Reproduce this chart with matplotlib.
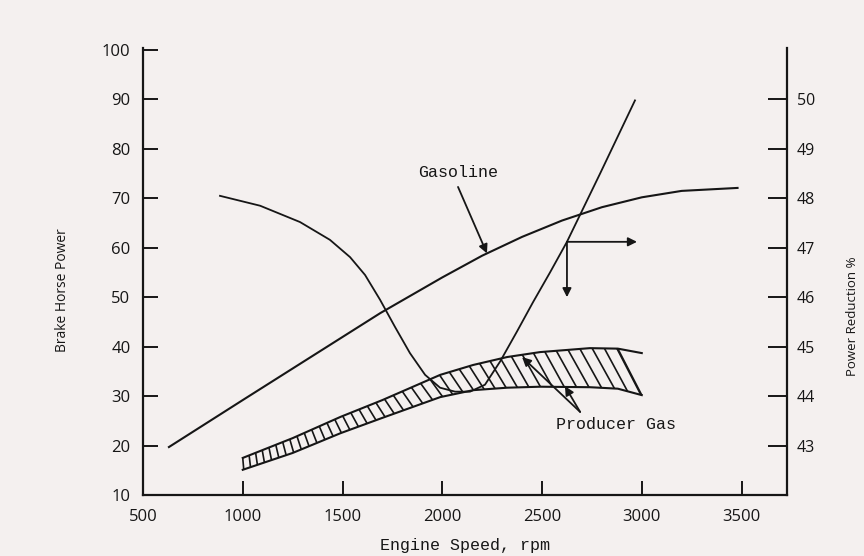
import numpy as np
import matplotlib.pyplot as plt
from matplotlib.collections import LineCollection

# Gasoline brake horse power
gas_rpm = [630, 1000, 1290, 1690, 2000, 2200, 2400, 2600, 2800, 3000, 3200, 3480]
gas_bhp = [19.7, 29.2, 36.6, 46.8, 54.0, 58.4, 62.2, 65.5, 68.2, 70.2, 71.5, 72.1]

# Producer gas band (brake horse power)
pg_rpm = [1000, 1250, 1490, 1700, 1990, 2155, 2325, 2490, 2740, 2880, 3000]
pg_upper = [17.5, 21.5, 25.8, 29.2, 34.3, 36.3, 37.9, 38.9, 39.7, 39.6, 38.7]
pg_lower = [15.1, 18.5, 22.5, 25.6, 29.8, 31.2, 31.7, 31.9, 31.8, 31.5, 30.2]

# Power reduction % (right axis)
red_rpm = [886, 1087, 1287, 1437, 1538, 1613, 1688, 1763, 1838, 1914, 1989, 2064,
           2139, 2214, 2290, 2375, 2455, 2540, 2625, 2791, 2966]
red_pct = [48.05, 47.85, 47.52, 47.16, 46.81, 46.45, 45.95, 45.40, 44.87, 44.43, 44.17,
           44.09, 44.09, 44.23, 44.70, 45.31, 45.90, 46.50, 47.12, 48.50, 49.98]

x_ticks = [500, 1000, 1500, 2000, 2500, 3000, 3500]
bhp_ticks = [10, 20, 30, 40, 50, 60, 70, 80, 90, 100]
red_ticks = [43, 44, 45, 46, 47, 48, 49, 50]
read_rpm = 2625

ink = '#161616'
bg = '#f4f0ef'
sans = ['Open Sans', 'DejaVu Sans']
mono = ['Liberation Mono', 'DejaVu Sans Mono']


def main():
    fig = plt.figure(figsize=(8.64, 5.56), dpi=100, facecolor=bg)
    ax = fig.add_axes([0.1655, 0.1097, 0.7454, 0.804])
    ax.set_facecolor(bg)
    ax.set_xlim(500, 3728)
    ax.set_ylim(10, 100.4)
    ax2 = ax.twinx()
    ax2.set_ylim(42, 51.04)

    for s in ['top', 'right']:
        ax.spines[s].set_visible(False)
    for s in ['top', 'left', 'bottom']:
        ax2.spines[s].set_visible(False)
    for s in ['left', 'bottom']:
        ax.spines[s].set_linewidth(1.6)
        ax.spines[s].set_color(ink)
    ax2.spines['right'].set_linewidth(1.6)
    ax2.spines['right'].set_color(ink)

    ax.set_xticks(x_ticks)
    ax.set_yticks(bhp_ticks)
    ax2.set_yticks(red_ticks)
    ax.tick_params(axis='y', direction='in', length=11, width=1.4, color=ink, pad=9,
                   labelsize=12, labelcolor=ink)
    ax.tick_params(axis='x', direction='in', length=10, width=1.4, color=ink, pad=10,
                   labelsize=12, labelcolor=ink)
    ax2.tick_params(axis='y', direction='in', length=14, width=1.4, color=ink, pad=7,
                    labelsize=11.5, labelcolor=ink)
    for lab in ax.get_xticklabels() + ax.get_yticklabels() + ax2.get_yticklabels():
        lab.set_family(sans)

    # curves
    ax.plot(gas_rpm, gas_bhp, color=ink, lw=1.5)
    ax.plot(pg_rpm, pg_upper, color=ink, lw=1.5)
    ax.plot(pg_rpm, pg_lower, color=ink, lw=1.5)
    ax2.plot(red_rpm, red_pct, color=ink, lw=1.3)

    # hatching of the producer gas band
    segs = []
    x = pg_rpm[0]
    x_end = 2880
    while x <= x_end:
        f = (x - pg_rpm[0]) / (x_end - pg_rpm[0])
        tilt = 5 + 115 * f
        xb = min(x + tilt, pg_rpm[-1])
        segs.append([(x, np.interp(x, pg_rpm, pg_upper)), (xb, np.interp(xb, pg_rpm, pg_lower))])
        x += 32 + 32 * f
    segs.append([(x_end, np.interp(x_end, pg_rpm, pg_upper)), (pg_rpm[-1], pg_lower[-1])])
    ax.add_collection(LineCollection(segs, colors=ink, linewidths=1.2))

    # labels and arrows
    arrow = dict(arrowstyle='-|>', color=ink, lw=1.3, mutation_scale=13, shrinkA=0, shrinkB=0)
    ax.text(2079, 75.3, 'Gasoline', ha='center', va='center', family=mono, fontsize=12, color=ink)
    ax.annotate('', xy=(2224, np.interp(2224, gas_rpm, gas_bhp)), xytext=(2079, 72.3),
                arrowprops=arrow)

    ax.text(2871, 24.2, 'Producer Gas', ha='center', va='center', family=mono, fontsize=12, color=ink)
    ax.annotate('', xy=(2400, 37.9), xytext=(2691, 26.8), arrowprops=arrow)
    ax.annotate('', xy=(2615, 32.0), xytext=(2691, 26.8), arrowprops=arrow)

    corner = np.interp(read_rpm, red_rpm, red_pct)
    ax2.annotate('', xy=(2976, corner), xytext=(read_rpm, corner), arrowprops=arrow)
    ax2.annotate('', xy=(read_rpm, 46.0), xytext=(read_rpm, corner), arrowprops=arrow)

    ax.set_xlabel('Engine Speed, rpm', family=mono, fontsize=12, color=ink)
    ax.xaxis.set_label_coords(0.50, -0.097)
    ax.set_ylabel('Brake Horse Power', family=sans, fontsize=10, color=ink)
    ax.yaxis.set_label_coords(-0.113, 0.459)
    ax2.set_ylabel('Power Reduction %', family=sans, fontsize=9.5, color=ink, rotation=90)
    ax2.yaxis.set_label_coords(1.092, 0.40)

    fig.savefig('out.png', dpi=100, facecolor=bg)


if __name__ == "__main__":
    main()
